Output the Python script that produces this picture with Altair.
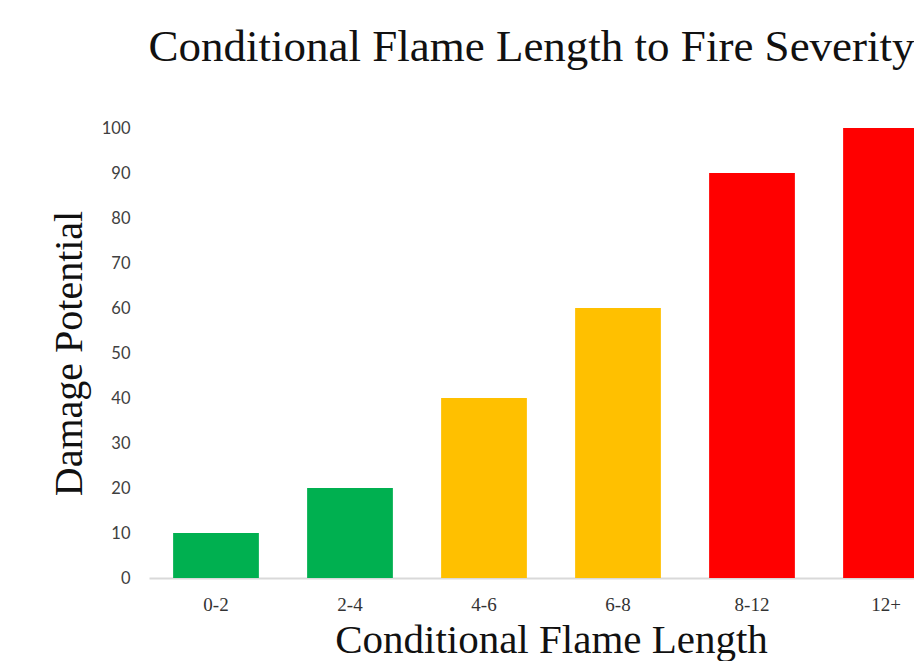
import altair as alt
import pandas as pd

categories = ["0-2", "2-4", "4-6", "6-8", "8-12", "12+"]
damage = [10, 20, 40, 60, 90, 100]
bar_colors = ["#00B050", "#00B050", "#FFC000", "#FFC000", "#FF0000", "#FF0000"]
y_ticks = [0, 10, 20, 30, 40, 50, 60, 70, 80, 90, 100]

df = pd.DataFrame({"cat": categories, "val": damage})

chart = alt.Chart(df).mark_bar().encode(
    x=alt.X("cat:N", sort=categories,
            scale=alt.Scale(range=[0, 804], paddingInner=0.36, paddingOuter=0.18),
            axis=alt.Axis(title="Conditional Flame Length", labelAngle=0,
                          ticks=False, domainColor="#d9d9d9", domainWidth=2,
                          labelFont="Liberation Serif", labelFontSize=19,
                          labelColor="#333333", labelPadding=17,
                          titleFont="Liberation Serif", titleFontSize=41,
                          titleFontWeight="normal", titleColor="#111111",
                          titleX=402, titlePadding=6)),
    y=alt.Y("val:Q", scale=alt.Scale(domain=[0, 100]),
            axis=alt.Axis(title="Damage Potential", values=y_ticks, grid=False,
                          domain=False, ticks=False, labelPadding=19,
                          labelFont="Lato", labelFontSize=16.5, labelColor="#404040",
                          titleFont="Liberation Serif", titleFontSize=40,
                          titleFontWeight="normal", titleColor="#111111",
                          titlePadding=12)),
    color=alt.Color("cat:N", sort=categories,
                    scale=alt.Scale(domain=categories, range=bar_colors),
                    legend=None),
).properties(
    width=765,
    height=450,
    background="white",
    autosize=alt.AutoSizeParams(type="none"),
    padding={"left": 141, "top": 120, "right": 0, "bottom": 83},
    title=alt.TitleParams("Conditional Flame Length to Fire Severity",
                          font="Liberation Serif", fontSize=45, fontWeight="normal",
                          color="#111111", anchor="middle", frame="group", offset=50),
).configure_view(strokeWidth=0)

chart.save("out.html", embed_options={"renderer": "svg", "actions": False})
